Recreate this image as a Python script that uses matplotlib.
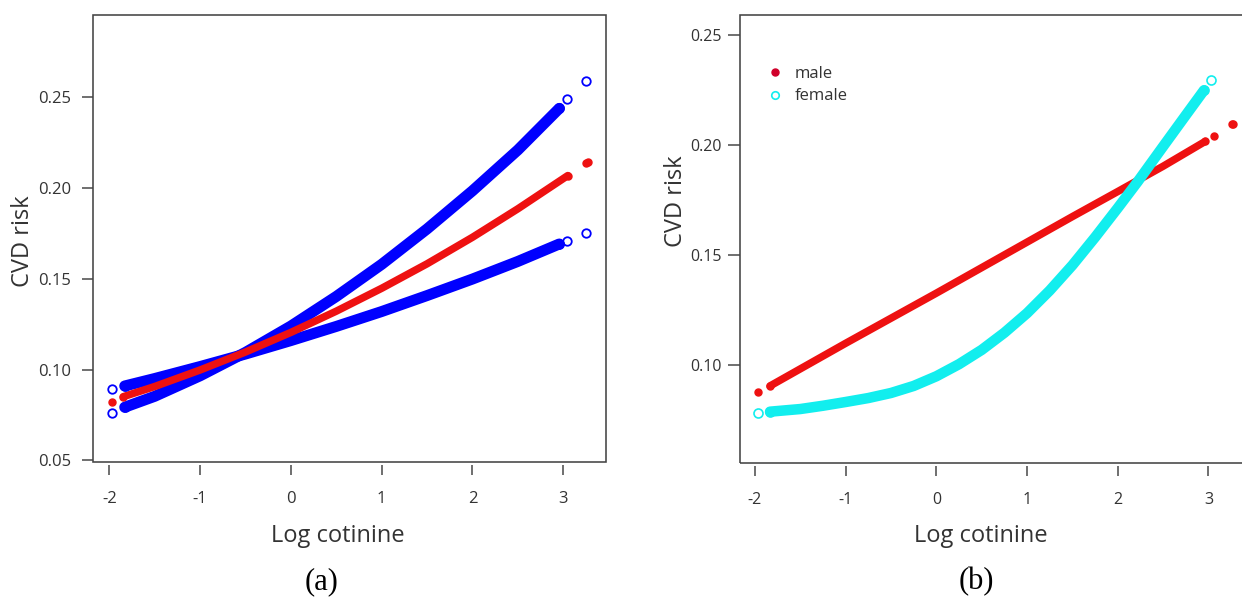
import matplotlib
matplotlib.use("Agg")
import matplotlib.pyplot as plt
from matplotlib.lines import Line2D
from matplotlib.patches import Rectangle

W, H, DPI = 1242, 599, 100

# ---- panel (a): fitted CVD risk and the two bounding curves ----
fit_x = [-1.846, -1.5, -1.0, -0.5, 0.0, 0.5, 1.0, 1.5, 2.0, 2.5, 3.05]
fit_y = [0.0851, 0.0907, 0.0998, 0.1097, 0.1205, 0.1322, 0.1448, 0.1583, 0.1729, 0.1886, 0.2069]
fit_tail_x = [-1.967, 3.25, 3.27]
fit_tail_y = [0.0824, 0.2138, 0.2142]

band_x = [-1.83, -1.5, -1.0, -0.5, 0.0, 0.5, 1.0, 1.5, 2.0, 2.5, 2.956]
upper_y = [0.0793, 0.0853, 0.0966, 0.1095, 0.1240, 0.1403, 0.1580, 0.1775, 0.1985, 0.2210, 0.2439]
lower_y = [0.0910, 0.0951, 0.1017, 0.1086, 0.1160, 0.1238, 0.1320, 0.1408, 0.1499, 0.1596, 0.1692]
band_tail_x = [-1.967, 3.044, 3.25]
upper_tail_y = [0.0760, 0.2491, 0.2588]
lower_tail_y = [0.0892, 0.1711, 0.1753]

# ---- panel (b): male vs female ----
male_x = [-1.834, -1.0, -0.5, 0.0, 0.5, 1.0, 1.5, 2.0, 2.5, 2.965]
male_y = [0.0906, 0.1100, 0.1214, 0.1328, 0.1444, 0.1560, 0.1676, 0.1790, 0.1905, 0.2018]
male_tail_x = [-1.97, 3.06, 3.26, 3.27]
male_tail_y = [0.0880, 0.2041, 0.2095, 0.2099]

female_x = [-1.834, -1.5, -1.25, -1.0, -0.75, -0.5, -0.25, 0.0, 0.25, 0.5, 0.75,
            1.0, 1.25, 1.5, 1.75, 2.0, 2.22, 2.5, 2.75, 2.95]
female_y = [0.0789, 0.0801, 0.0816, 0.0833, 0.0851, 0.0874, 0.0906, 0.0950, 0.1005, 0.1070, 0.1148,
            0.1237, 0.1340, 0.1455, 0.1582, 0.1715, 0.1835, 0.1995, 0.2137, 0.2250]
female_tail_x = [-1.97, 3.03]
female_tail_y = [0.0782, 0.2295]

x_ticks = [-2, -1, 0, 1, 2, 3]
a_yticks = [0.05, 0.10, 0.15, 0.20, 0.25]
b_yticks = [0.10, 0.15, 0.20, 0.25]

RED = "#ee1111"
BLUE = "#0000ff"
CYAN = "#12eeee"
AXC = "#444444"
TXT = "#333333"

plt.rcParams["font.family"] = ["Open Sans", "DejaVu Sans"]
plt.rcParams["axes.unicode_minus"] = False


def px(v):
    # pixels -> points
    return v * 72.0 / DPI


def frame(ax, ylen, ypad, fs):
    for s in ax.spines.values():
        s.set_visible(False)
    ax.spines["bottom"].set_position(("outward", px(3)))
    ax.add_patch(Rectangle((0, 0), 1, 1, transform=ax.transAxes, fill=False,
                           ec=AXC, lw=px(1.6), clip_on=False, zorder=5))
    ax.set_xticks(x_ticks)
    ax.set_xticklabels([str(t) for t in x_ticks])
    ax.tick_params(axis="x", direction="out", length=px(9.5), width=px(1.5),
                   color=AXC, pad=12, labelsize=fs, labelcolor=TXT)
    ax.tick_params(axis="y", direction="out", length=px(ylen), width=px(1.5),
                   color=AXC, pad=px(ypad), labelsize=fs, labelcolor=TXT)


def band(ax, x, y, color, width, ms, mew=1.0, filled=False):
    ax.plot(x, y, color=color, lw=px(width), solid_capstyle="round",
            solid_joinstyle="round", zorder=2)
    ax.plot([x[0], x[-1]], [y[0], y[-1]], ls="none", marker="o",
            ms=px(ms), mfc=color if filled else "none", mec=color,
            mew=mew, zorder=3)


def tail(ax, x, y, color, ms, mew=1.0, filled=False):
    ax.plot(x, y, ls="none", marker="o", ms=px(ms),
            mfc=color if filled else "none", mec=color, mew=mew, zorder=3)


fig = plt.figure(figsize=(W / DPI, H / DPI), dpi=DPI)

# left panel
ax1 = fig.add_axes([93.3 / W, 1 - 461.5 / H, 512.2 / W, 446.8 / H])
frame(ax1, 10.6, 11.5, 12)
ax1.set_xlim(-2.176, 3.465)
ax1.set_ylim(0.0494, 0.2955)
ax1.set_yticks(a_yticks)
ax1.set_yticklabels([f"{t:.2f}" for t in a_yticks])

band(ax1, band_x, lower_y, BLUE, 11, 9, 1.3)
band(ax1, band_x, upper_y, BLUE, 11, 9, 1.3)
tail(ax1, band_tail_x, lower_tail_y, BLUE, 8.5, 1.3)
tail(ax1, band_tail_x, upper_tail_y, BLUE, 8.5, 1.3)
band(ax1, fit_x, fit_y, RED, 7.5, 7, filled=True)
tail(ax1, fit_tail_x, fit_tail_y, RED, 7, filled=True)

# right panel (its frame runs past the right edge of the picture)
ax2 = fig.add_axes([740 / W, 1 - 462.7 / H, 511 / W, 448 / H])
frame(ax2, 12, 6.6, 11.5)
ax2.set_xlim(-2.165, 3.469)
ax2.set_ylim(0.0557, 0.2594)
ax2.set_yticks(b_yticks)
ax2.set_yticklabels([f"{t:.2f}" for t in b_yticks])

band(ax2, male_x, male_y, RED, 7.5, 7, filled=True)
tail(ax2, male_tail_x, male_tail_y, RED, 7, filled=True)
band(ax2, female_x, female_y, CYAN, 10.5, 9, 1.2)
tail(ax2, female_tail_x, female_tail_y, CYAN, 9, 1.2)

handles = [
    Line2D([], [], ls="none", marker="o", ms=px(7), color="#d0002a"),
    Line2D([], [], ls="none", marker="o", ms=px(7.5), mfc="none", mec=CYAN, mew=1.2),
]
ax2.legend(handles, ["male", "female"], loc="upper left", frameon=False,
           fontsize=12, handlelength=0.8, handletextpad=0.78, labelspacing=0.39,
           bbox_to_anchor=((768 - 740) / 511, (462.7 - 66) / 448),
           borderaxespad=0, borderpad=0, labelcolor=TXT)

# axis titles and panel tags
lab = dict(fontsize=17, color=TXT, ha="center", va="center")
fig.text(23.5 / W, 1 - 241 / H, "CVD risk", rotation=90, **lab)
fig.text(338 / W, 1 - 536 / H, "Log cotinine", **lab)
fig.text(676 / W, 1 - 201 / H, "CVD risk", rotation=90, **lab)
fig.text(980.5 / W, 1 - 536 / H, "Log cotinine", **lab)

tag = dict(fontsize=22, color="black", ha="center", va="center",
           family=["Liberation Serif", "DejaVu Serif"])
fig.text(322 / W, 1 - 582 / H, "(a)", **tag)
fig.text(976 / W, 1 - 582 / H, "(b)", **tag)

fig.savefig("out.png", dpi=DPI, facecolor="white")
